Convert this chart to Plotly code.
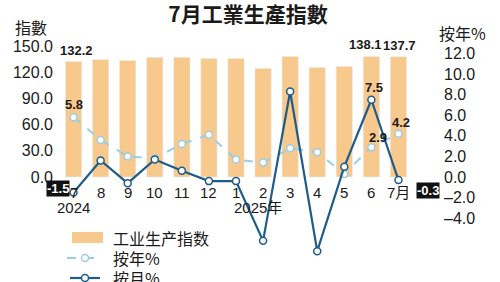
import plotly.graph_objects as go

months = ["7", "8", "9", "10", "11", "12", "1", "2", "3", "4", "5", "6", "7月"]
index_vals = [132.2, 134.6, 133.5, 137.0, 137.0, 135.8, 135.8, 124.3, 138.1, 125.5, 126.6, 138.1, 137.7]
yoy_vals = [5.8, 3.6, 2.0, 1.8, 3.2, 4.1, 1.7, 1.4, 2.8, 2.4, 0.3, 2.9, 4.2]
mom_vals = [-1.5, 1.6, -0.6, 1.7, 0.6, -0.4, -0.4, -6.2, 8.3, -7.2, 1.0, 7.5, -0.3]
left_ticks = [0, 30, 60, 90, 120, 150]
right_ticks = [-4, -2, 0, 2, 4, 6, 8, 10, 12]
legend_names = ["工业生产指数", "按年%", "按月%"]

BAR = "#F8C98C"
YOY = "#9CCDE4"
MOM = "#1F5C88"
TXT = "#1a1a1a"
NUMFONT = "Liberation Sans Narrow, Liberation Sans, Arial"
CJK = "Liberation Sans, Noto Sans CJK SC"

W, H = 500, 282
L, R, T, B = 60, 88, 40, 20
pw, ph = W - L - R, H - T - B


def px(xp):
    return (xp - L) / pw


def py(yp):
    return (H - B - yp) / ph


x = list(range(len(months)))

fig = go.Figure()
fig.add_trace(go.Bar(x=x, y=index_vals, marker_color=BAR, width=0.6,
                     name=legend_names[0], yaxis="y"))
fig.add_trace(go.Scatter(x=x, y=yoy_vals, mode="lines+markers", name=legend_names[1],
                         line=dict(color=YOY, width=2, dash="dash"),
                         marker=dict(size=7, color="white", line=dict(color=YOY, width=1.5)),
                         yaxis="y2"))
fig.add_trace(go.Scatter(x=x, y=mom_vals, mode="lines+markers", name=legend_names[2],
                         line=dict(color=MOM, width=2.2),
                         marker=dict(size=7, color="white", line=dict(color=MOM, width=1.5)),
                         yaxis="y2"))

ann = []
for i, m in enumerate(months):
    ann.append(dict(x=i, y=0, xref="x", yref="y2", text=m, showarrow=False,
                    yshift=-15, font=dict(size=15, color=TXT, family=CJK)))
ann.append(dict(x=0, y=0, xref="x", yref="y2", text="2024", showarrow=False,
                yshift=-30, font=dict(size=15, color=TXT, family=CJK)))
ann.append(dict(x=6, y=0, xref="x", yref="y2", text="2025年", showarrow=False,
                xanchor="left", xshift=-4, yshift=-30, font=dict(size=15, color=TXT, family=CJK)))

BOLD = dict(size=13, color=TXT, family=NUMFONT, weight="bold")
for i, xs in ((0, 3), (11, -6), (12, 1)):
    ann.append(dict(x=i, y=index_vals[i], xref="x", yref="y", text=f"{index_vals[i]:.1f}",
                    showarrow=False, yanchor="bottom", yshift=2, xshift=xs, font=BOLD))
for i, v, xs, ys in ((0, yoy_vals[0], 0, 13), (12, yoy_vals[12], 3, 11), (11, yoy_vals[11], 7, 10)):
    ann.append(dict(x=i, y=v, xref="x", yref="y2", text=f"{v:.1f}", showarrow=False,
                    xshift=xs, yshift=ys, font=BOLD))
ann.append(dict(x=11, y=mom_vals[11], xref="x", yref="y2", text=f"{mom_vals[11]:.1f}",
                showarrow=False, xshift=3, yshift=12, font=BOLD))
WB = dict(size=13, color="white", family=NUMFONT, weight="bold")
ann.append(dict(x=0, y=mom_vals[0], xref="x", yref="y2", text=f"{mom_vals[0]:.1f}",
                showarrow=False, xanchor="right", xshift=-4, yshift=4, bgcolor="#111111",
                borderpad=0, font=WB))
ann.append(dict(x=12, y=mom_vals[12], xref="x", yref="y2", text=f"{mom_vals[12]:.1f}",
                showarrow=False, xanchor="left", xshift=18, yshift=-10, bgcolor="#111111",
                borderpad=0, font=WB))
# axis titles
ann.append(dict(x=px(31), y=py(27), xref="paper", yref="paper", text="指數", showarrow=False,
                xanchor="center", yanchor="middle",
                font=dict(size=16, color=TXT, family="Noto Sans CJK TC")))
ann.append(dict(x=px(463), y=py(33), xref="paper", yref="paper", text="按年%", showarrow=False,
                xanchor="center", yanchor="middle",
                font=dict(size=16, color=TXT, family="Noto Sans CJK SC")))
# legend texts
for name, yc in zip(legend_names, (238, 258, 278)):
    ann.append(dict(x=px(111), y=py(yc), xref="paper", yref="paper", text=name, showarrow=False,
                    xanchor="left", yanchor="middle",
                    font=dict(size=16, color=TXT, family="Noto Sans CJK SC")))

shapes = [
    dict(type="rect", xref="paper", yref="paper", x0=px(72), x1=px(103), y0=py(243), y1=py(232),
         fillcolor=BAR, line=dict(width=0)),
    dict(type="line", xref="paper", yref="paper", x0=px(67), x1=px(103), y0=py(258), y1=py(258),
         line=dict(color=YOY, width=2, dash="dash")),
    dict(type="circle", xref="paper", yref="paper", x0=px(81.5), x1=px(88.5), y0=py(261.5), y1=py(254.5),
         fillcolor="white", line=dict(color=YOY, width=1.5)),
    dict(type="line", xref="paper", yref="paper", x0=px(70), x1=px(100), y0=py(278), y1=py(278),
         line=dict(color=MOM, width=2.2)),
    dict(type="circle", xref="paper", yref="paper", x0=px(81.5), x1=px(88.5), y0=py(281.5), y1=py(274.5),
         fillcolor="white", line=dict(color=MOM, width=1.5)),
]

zero_px = 177 - T
k2 = 10.3
k1 = 131 / 150
y2_top = zero_px / k2
y2_bot = -(ph - zero_px) / k2
y1_top = zero_px / k1
y1_bot = -(ph - zero_px) / k1

fig.update_layout(
    width=W, height=H,
    margin=dict(l=L, r=R, t=T, b=B, autoexpand=False),
    paper_bgcolor="white", plot_bgcolor="white",
    font=dict(family=CJK, color=TXT, size=15),
    title=dict(text="<b>7月工業生產指數</b>", x=0.496, xanchor="center", xref="container",
               y=1 - 15 / 282, yanchor="middle", yref="container",
               font=dict(size=21, family="Noto Sans CJK TC", color=TXT)),
    xaxis=dict(range=[-0.5, len(months) - 0.5], showticklabels=False, showgrid=False,
               zeroline=False, showline=False, ticks=""),
    yaxis=dict(range=[y1_bot, y1_top], tickvals=left_ticks,
               ticktext=[f"{v:.1f}" for v in left_ticks], showgrid=False, zeroline=False,
               ticklabelstandoff=6, tickfont=dict(size=16, family="Liberation Sans", color=TXT)),
    yaxis2=dict(range=[y2_bot, y2_top], overlaying="y", side="right", tickvals=right_ticks,
                ticktext=[f"{v:.1f}".replace("-", "–") for v in right_ticks], showgrid=False,
                zeroline=False, ticklabelstandoff=31,
                tickfont=dict(size=16, family="Liberation Sans", color=TXT)),
    showlegend=False,
    annotations=ann,
    shapes=shapes,
)

fig.write_html("out.html")
